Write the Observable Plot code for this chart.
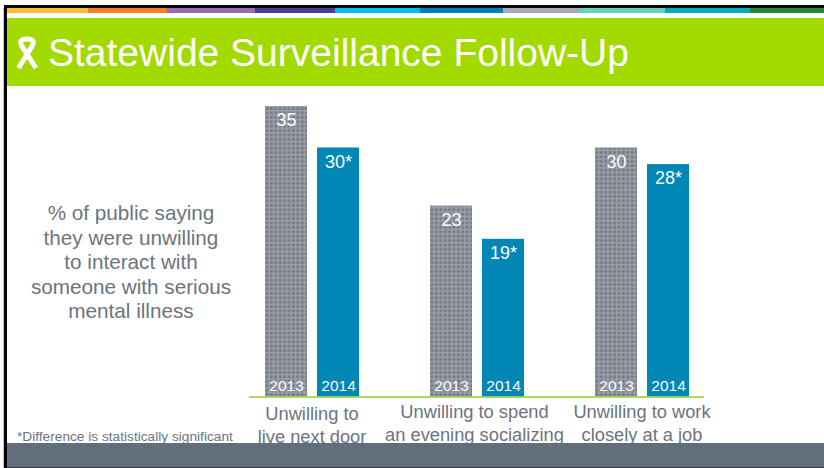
<!DOCTYPE html>
<html>
<head>
<meta charset="utf-8">
<script src="https://cdn.jsdelivr.net/npm/d3@7"></script>
<script src="https://cdn.jsdelivr.net/npm/@observablehq/plot@0.6"></script>
<style>
  html, body { margin: 0; padding: 0; background: #fff; }
  body { width: 824px; height: 468px; overflow: hidden; position: relative; font-family: "Liberation Sans", Arial, sans-serif; }
  .abs { position: absolute; }
  #chart { position: absolute; left: 0; top: 0; }
  #chart svg { display: block; background: transparent; }
  #title { left: 48px; top: 30px; font-size: 39px; line-height: 46px; color: #fff; white-space: nowrap; }
  #note { left: 21px; width: 220px; top: 201px; font-size: 20.7px; line-height: 24.5px; color: #6b7480; text-align: center; }
  #foot { left: 17px; top: 430px; font-size: 13.7px; line-height: 14px; color: #6b7480; white-space: nowrap; }
  #footer { left: 3px; right: 0; top: 443px; height: 24px; background: #636e7c; }
  #footline { left: 3px; right: 0; top: 467px; height: 1px; background: #333a44; }
  #frameTop { left: 4px; right: 0; top: 5px; height: 3px; background: #060606; }
  #frameLeft { left: 4px; width: 3px; top: 5px; bottom: 0; background: #060606; }
  #frameEdge { left: 3px; width: 1px; top: 8px; bottom: 0; background: #c4c4c4; }
  #header { left: 3px; right: 0; top: 18px; height: 68px; background: #a2da00; }
  #band { left: 3px; right: 0; top: 8px; height: 5px; display: flex; }
</style>
</head>
<body>
<div class="abs" id="band"></div>
<div class="abs" id="header"></div>
<div class="abs" id="title">Statewide Surveillance Follow-Up</div>
<div class="abs" id="note">% of public saying<br>they were unwilling<br>to interact with<br>someone with serious<br>mental illness</div>
<div class="abs" id="foot">*Difference is statistically significant</div>
<div id="chart"></div>
<div class="abs" id="footer"></div>
<div class="abs" id="footline"></div>
<div class="abs" id="frameEdge"></div>
<div class="abs" id="frameTop"></div>
<div class="abs" id="frameLeft"></div>
<script>
// Survey results
const categories = ["next door", "socializing", "at a job"];
const categoryLabels = [
  "Unwilling to\nlive next door",
  "Unwilling to spend\nan evening socializing",
  "Unwilling to work\nclosely at a job"
];
const years = ["2013", "2014"];
const values2013 = [35, 23, 30];
const values2014 = [30, 19, 28];
const marks2014 = ["30*", "19*", "28*"];

// Header strip colours and their share of the strip
const stripColors = ["#fdbd3a", "#f47f25", "#9b6ab3", "#453d98", "#00bdf2", "#0080b4", "#aaa9bb", "#68d2bd", "#00aebb", "#248a35"];
const stripWidths = [85, 79, 88, 80, 85, 83, 77, 85, 85, 74];

const strip = document.getElementById("band");
stripColors.forEach((c, i) => {
  const seg = document.createElement("div");
  seg.style.cssText = `background:${c};width:${stripWidths[i]}px;flex:none`;
  strip.appendChild(seg);
});

const rows = categories.flatMap((c, i) => [
  {category: c, year: years[0], value: values2013[i], label: String(values2013[i])},
  {category: c, year: years[1], value: values2014[i], label: marks2014[i]}
]);
const labelRows = categories.map((c, i) => ({category: c, label: categoryLabels[i]}));

const labelOffsets = {
  "next door": {dx: 0, dy: 7},
  "socializing": {dx: -2.5, dy: 5},
  "at a job": {dx: 0, dy: 5}
};
const categoryText = (c) => Plot.text(labelRows.filter((d) => d.category === c), {
  fx: "category", text: "label", frameAnchor: "bottom", lineAnchor: "top",
  dx: labelOffsets[c].dx, dy: labelOffsets[c].dy,
  fontSize: 18.3, lineHeight: 1.24, fill: "#6b7480"
});

const plot = Plot.plot({
  width: 824,
  height: 468,
  marginLeft: 229,
  marginRight: 100,
  marginTop: 106,
  marginBottom: 71.5,
  style: {background: "transparent", fontFamily: "'Liberation Sans', Arial, sans-serif", overflow: "visible"},
  fx: {domain: categories, padding: 0, axis: null},
  x: {domain: years, paddingInner: 0.2, paddingOuter: 0.671, axis: null},
  y: {domain: [0, 35], axis: null},
  marks: [
    Plot.barY(rows, {
      fx: "category", x: "year", y: "value",
      fill: (d) => d.year === years[0] ? "url(#lattice)" : "#0087b5"
    }),
    Plot.ruleY([0], {fx: () => categories[0], insetLeft: 20, stroke: "#8fd02c", strokeWidth: 1.5}),
    Plot.ruleY([0], {fx: () => categories[1], stroke: "#8fd02c", strokeWidth: 1.5}),
    Plot.ruleY([0], {fx: () => categories[2], insetRight: 20, stroke: "#8fd02c", strokeWidth: 1.5}),
    Plot.text(rows, {
      fx: "category", x: "year", y: "value", text: "label",
      lineAnchor: "top", dy: 7, fill: "#fff", fontSize: 18
    }),
    Plot.text(rows, {
      fx: "category", x: "year", y: () => 0, text: "year",
      lineAnchor: "bottom", dy: -6, fill: "#fff", fontSize: 15.5
    }),
    ...categories.map(categoryText)
  ]
});

// Lattice texture for the earlier survey year
const root = d3.select(plot);
const tile = root.insert("defs", ":first-child").append("pattern")
  .attr("id", "lattice").attr("patternUnits", "userSpaceOnUse")
  .attr("width", 4.4).attr("height", 4.4);
tile.append("rect").attr("width", 4.4).attr("height", 4.4).attr("fill", "#7b828d");
tile.append("rect").attr("width", 1.4).attr("height", 4.4).attr("fill", "#9a9fa8");
tile.append("rect").attr("width", 4.4).attr("height", 1.4).attr("fill", "#9a9fa8");
tile.append("rect").attr("x", 2.4).attr("y", 2.4).attr("width", 1.1).attr("height", 1.1).attr("fill", "#686f7b");

// Awareness ribbon beside the title
root.append("path")
  .attr("d", "M18.5,68 L31,48 C35,42 34,39 27,39 C20,39 19,42 23,48 L36,68")
  .attr("fill", "none").attr("stroke", "#fff").attr("stroke-width", 5);

document.getElementById("chart").appendChild(plot);
</script>
</body>
</html>
